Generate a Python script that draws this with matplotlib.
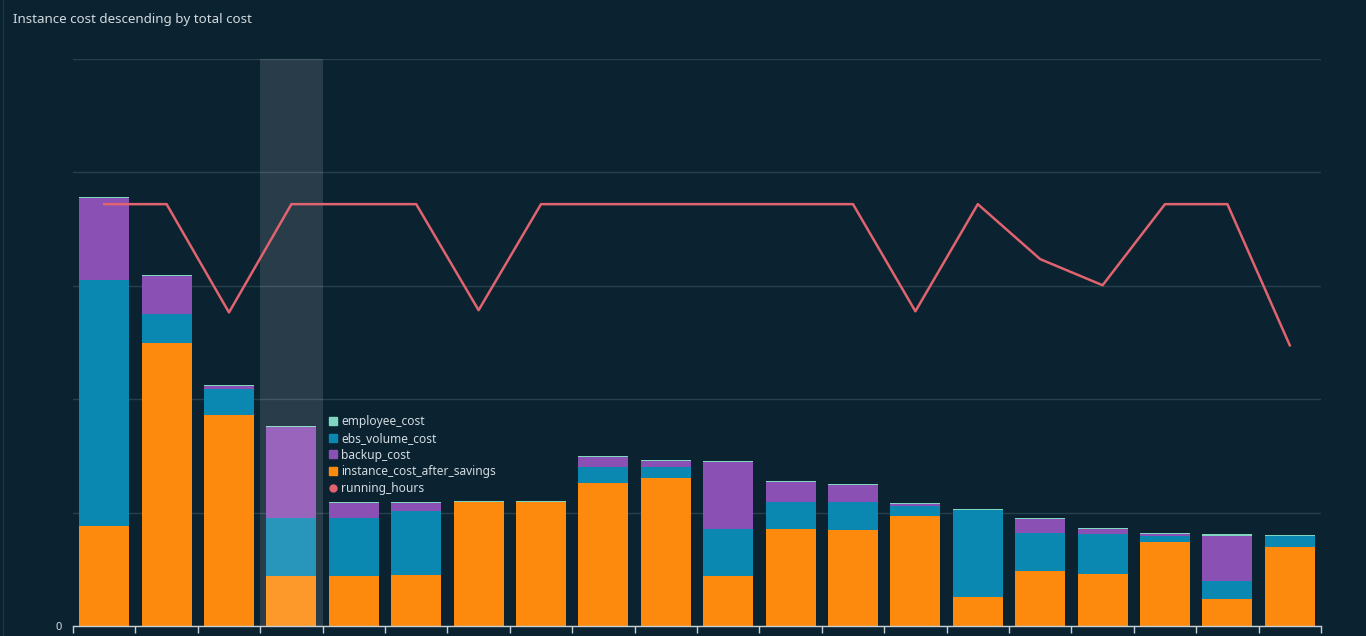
import numpy as np
import matplotlib.pyplot as plt
from matplotlib.lines import Line2D

# values (cost units, gridline step = 500)
instances = [f"i-{n:02d}" for n in range(1, 21)]
instance_cost_after_savings = [441, 1248, 930, 220, 220, 225, 547, 547, 632, 654,
                               220, 429, 425, 486, 129, 244, 229, 370, 120, 350]
backup_cost = [362, 166, 13, 401, 66, 35, 0, 0, 43, 25,
               293, 86, 74, 7, 0, 59, 19, 6, 200, 0]
ebs_volume_cost = [1085, 129, 115, 256, 256, 282, 0, 0, 71, 48,
                   209, 119, 123, 43, 382, 168, 178, 28, 79, 46]
employee_cost = [5] * 20
running_hours = [744, 744, 553, 744, 744, 744, 557, 744, 744, 744,
                 744, 744, 744, 555, 744, 647, 601, 744, 744, 495]

highlighted = 3

BG = "#0b2230"
ORANGE = "#fd8a0d"
TEAL = "#0a88b1"
PURPLE = "#8b50b3"
MINT = "#7fd7c0"
LINE = "#e0646f"
GRID = "#27404d"
TEXT = "#d3dbe0"

plt.rcParams['font.family'] = ['Noto Sans', 'DejaVu Sans']

fig = plt.figure(figsize=(13.66, 6.36), dpi=100, facecolor=BG)
ax = fig.add_axes([73 / 1366, 10 / 636, 1248 / 1366, 567 / 636])
ax.set_facecolor(BG)

x = np.arange(len(instances))
w = 0.8
b1 = np.array(instance_cost_after_savings)
b2 = b1 + np.array(ebs_volume_cost)
b3 = b2 + np.array(backup_cost)

ax.bar(x, instance_cost_after_savings, w, color=ORANGE, zorder=2, label="instance_cost_after_savings")
ax.bar(x, ebs_volume_cost, w, bottom=b1, color=TEAL, zorder=2, label="ebs_volume_cost")
ax.bar(x, backup_cost, w, bottom=b2, color=PURPLE, zorder=2, label="backup_cost")
ax.bar(x, employee_cost, w, bottom=b3, color=MINT, zorder=2, label="employee_cost")

# hover highlight
ax.axvspan(highlighted - 0.5, highlighted + 0.5, color="white", alpha=0.12, lw=0, zorder=3)

ax.set_xlim(-0.5, len(instances) - 0.5)
ax.set_ylim(0, 2500)
ax.set_yticks(np.arange(0, 2501, 500))
ax.set_yticklabels(["0"] + [""] * 5)
ax.yaxis.grid(True, color=GRID, lw=1, zorder=0)
ax.set_axisbelow(True)
ax.tick_params(axis="y", length=0, pad=8, labelcolor=TEXT, labelsize=8)
for lab in ax.get_yticklabels():
    lab.set_fontweight("bold")
ax.set_xticks(np.arange(-0.5, len(instances), 1))
ax.set_xticklabels([])
ax.tick_params(axis="x", direction="out", length=5, width=1, color="#c8d0d5")
for s in ["top", "right", "left"]:
    ax.spines[s].set_visible(False)
ax.spines["bottom"].set_color("#c8d0d5")
ax.spines["bottom"].set_linewidth(1)

ax2 = ax.twinx()
ax2.set_ylim(0, 1000)
ax2.plot(x, running_hours, color=LINE, lw=1.8, zorder=5, label="running_hours")
ax2.axis("off")

# tooltip-style legend
handles = [
    Line2D([], [], marker="s", ls="", color=MINT, markersize=6),
    Line2D([], [], marker="s", ls="", color=TEAL, markersize=6),
    Line2D([], [], marker="s", ls="", color=PURPLE, markersize=6),
    Line2D([], [], marker="s", ls="", color=ORANGE, markersize=6),
    Line2D([], [], marker="o", ls="", color=LINE, markersize=5),
]
labels = ["employee_cost", "ebs_volume_cost", "backup_cost",
          "instance_cost_after_savings", "running_hours"]
leg = ax2.legend(handles, labels, loc="upper left",
                 bbox_to_anchor=((325 - 73) / 1248, (626 - 413) / 567),
                 frameon=True, facecolor=BG, edgecolor=BG, framealpha=1,
                 labelcolor=TEXT, fontsize=8.6, handletextpad=0.15,
                 handlelength=1.0, labelspacing=0.3, borderpad=0.2,
                 borderaxespad=0)
leg.set_zorder(10)

fig.text(13 / 1366, 1 - 19 / 636, "Instance cost descending by total cost",
         color=TEXT, fontsize=9.6, va="center", ha="left")
fig.add_artist(plt.Line2D([3 / 1366, 3 / 1366], [0, 1], color="#1c3644", lw=1))

fig.savefig("out.png", dpi=100, facecolor=BG)
